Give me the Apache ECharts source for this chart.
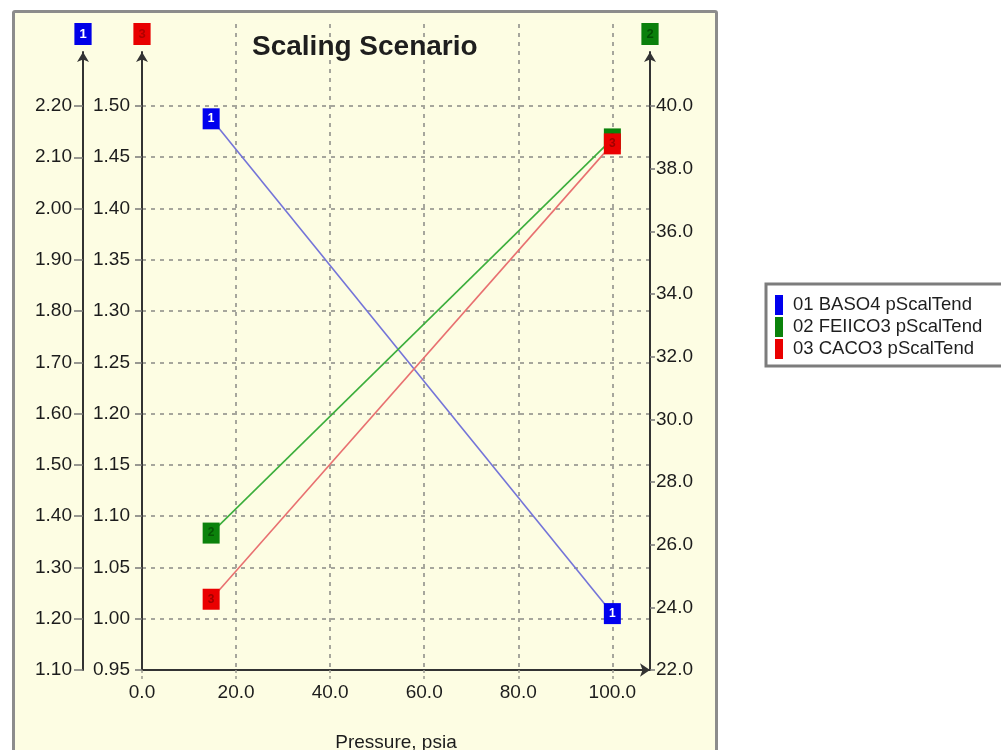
<!DOCTYPE html>
<html>
<head>
<meta charset="utf-8">
<script src="https://cdn.jsdelivr.net/npm/echarts@6/dist/echarts.min.js"></script>
<style>
  html, body { margin: 0; padding: 0; background: #ffffff; }
  #panel { position: absolute; left: 12px; top: 10px; width: 700px; height: 760px;
           border: 3px solid #8c8c8c; border-radius: 3px; background: #fdfde3; }
  #chart { position: absolute; left: 0; top: 0; width: 1001px; height: 750px; }
</style>
</head>
<body>
<div id="panel"></div>
<div id="chart"></div>
<script>
// ---- data ----
const pressure = [14.7, 100.0];
const baso4 = [2.175, 1.21];      // left outer axis (1.10 - 2.20)
const feiico3 = [26.37, 38.95];   // right axis (22.0 - 40.0)
const caco3 = [1.019, 1.463];     // left inner axis (0.95 - 1.50)
const seriesNames = ['01 BASO4 pScalTend', '02 FEIICO3 pScalTend', '03 CACO3 pScalTend'];
const markerLabels = ['1', '2', '3'];
const xTicks = [0, 20, 40, 60, 80, 100];
const blueTicks = [1.10, 1.20, 1.30, 1.40, 1.50, 1.60, 1.70, 1.80, 1.90, 2.00, 2.10, 2.20];
const redTicks = [0.95, 1.00, 1.05, 1.10, 1.15, 1.20, 1.25, 1.30, 1.35, 1.40, 1.45, 1.50];
const greenTicks = [22, 24, 26, 28, 30, 32, 34, 36, 38, 40];
const titleText = 'Scaling Scenario';
const xName = 'Pressure, psia';

const FONT = 'Liberation Sans, Arial, sans-serif';
const AXIS_COL = '#333333';
const LABEL_COL = '#1c1c1c';
const GRID_COL = '#a6a69c';

function pairs(vals) { return pressure.map((x, i) => [x, vals[i]]); }

function yAxisBase(opts) {
  return Object.assign({
    type: 'value',
    gridIndex: 0,
    nameLocation: 'end',
    nameGap: 7,
    axisLine: { show: true, onZero: false, symbol: ['none', 'arrow'], symbolSize: [9, 10],
                lineStyle: { color: AXIS_COL, width: 2 } },
    splitLine: { show: false }
  }, opts);
}

function nameBox(bg, fg) {
  return { backgroundColor: bg, color: fg, fontFamily: FONT, fontSize: 13,
           padding: [5, 5, 4, 5], fontWeight: 'bold' };
}

const chart = echarts.init(document.getElementById('chart'), null, { renderer: 'canvas' });

const option = {
  animation: false,
  backgroundColor: 'transparent',
  title: {
    text: titleText,
    left: 252, top: 33, padding: 0,
    textStyle: { fontFamily: FONT, fontSize: 28, fontWeight: 'bold', color: '#1e1e1e' }
  },
  legend: {
    orient: 'vertical',
    left: 766, top: 284,
    padding: [11, 90, 7, 9],
    itemGap: 2,
    itemWidth: 8, itemHeight: 20,
    icon: 'rect',
    backgroundColor: '#ffffff',
    borderColor: '#7c7c7c', borderWidth: 3,
    textStyle: { fontFamily: FONT, fontSize: 18.5, color: '#1e1e1e', padding: [0, 0, 0, 5] },
    data: seriesNames
  },
  grid: [
    { left: 142, right: 351, top: 52, bottom: 80, containLabel: false, outerBoundsMode: 'none' },
    { left: 142, right: 351, top: 24, bottom: 80, containLabel: false, outerBoundsMode: 'none' }
  ],
  xAxis: [
    {
      type: 'value', gridIndex: 0,
      min: 0, max: 108, interval: 20,
      name: xName, nameLocation: 'middle', nameGap: 63,
      nameTextStyle: { fontFamily: FONT, fontSize: 19, color: LABEL_COL },
      axisLine: { show: true, onZero: false, symbol: ['none', 'arrow'], symbolSize: [10, 10],
                  lineStyle: { color: AXIS_COL, width: 2 } },
      axisTick: { show: true, length: 10, customValues: xTicks,
                  lineStyle: { color: '#9a9a90', width: 1.5, type: [3, 3] } },
      axisLabel: { customValues: xTicks, margin: 13, fontFamily: FONT, fontSize: 19, color: LABEL_COL,
                   formatter: v => v.toFixed(1) },
      splitLine: { show: false }
    },
    {
      type: 'value', gridIndex: 1,
      min: 0, max: 108, interval: 20,
      axisLine: { show: false }, axisTick: { show: false }, axisLabel: { show: false },
      splitLine: { show: true, showMinLine: false, showMaxLine: false,
                   lineStyle: { color: GRID_COL, width: 2, type: [4, 5] } }
    }
  ],
  yAxis: [
    yAxisBase({
      position: 'left', offset: 0,
      min: 0.95, max: 1.5526, interval: 0.05,
      name: markerLabels[2],
      nameTextStyle: nameBox('#e80000', '#b00000'),
      axisLabel: { customValues: redTicks, margin: 12, fontFamily: FONT, fontSize: 19, color: LABEL_COL,
                   formatter: v => v.toFixed(2) },
      axisTick: { show: true, length: 7, customValues: redTicks, lineStyle: { color: '#777', width: 1.5 } },
      splitLine: { show: true, showMinLine: false,
                   lineStyle: { color: GRID_COL, width: 2, type: [4, 5] } }
    }),
    yAxisBase({
      position: 'left', offset: 59,
      min: 1.10, max: 2.3053, interval: 0.10,
      name: markerLabels[0],
      nameTextStyle: nameBox('#0000e8', '#ffffff'),
      axisLabel: { customValues: blueTicks, margin: 11, fontFamily: FONT, fontSize: 19, color: LABEL_COL,
                   formatter: v => v.toFixed(2) },
      axisTick: { show: true, length: 9, customValues: blueTicks, lineStyle: { color: '#777', width: 1.5 } }
    }),
    yAxisBase({
      position: 'right', offset: 0,
      min: 22, max: 41.724, interval: 2,
      name: markerLabels[1],
      nameTextStyle: nameBox('#0b800b', '#045004'),
      axisLabel: { customValues: greenTicks, margin: 6, fontFamily: FONT, fontSize: 19, color: LABEL_COL,
                   formatter: v => v.toFixed(1) },
      axisTick: { show: true, length: 5, customValues: greenTicks, lineStyle: { color: '#777', width: 1.5 } }
    }),
    { type: 'value', gridIndex: 1, show: false, min: 0, max: 1 }
  ],
  series: [
    {
      name: seriesNames[0], type: 'line', xAxisIndex: 0, yAxisIndex: 1,
      data: pairs(baso4),
      symbol: 'rect', symbolSize: [17, 21], z: 3,
      itemStyle: { color: '#0000ee' },
      lineStyle: { color: '#7474d8', width: 1.6 },
      label: { show: true, position: 'inside', formatter: markerLabels[0], color: '#ffffff',
               fontFamily: FONT, fontSize: 12, fontWeight: 'bold' }
    },
    {
      name: seriesNames[1], type: 'line', xAxisIndex: 0, yAxisIndex: 2,
      data: pairs(feiico3),
      symbol: 'rect', symbolSize: [17, 21], z: 4,
      itemStyle: { color: '#0b820b' },
      lineStyle: { color: '#3cae3c', width: 1.6 },
      label: { show: true, position: 'inside', formatter: markerLabels[1], color: '#055505',
               fontFamily: FONT, fontSize: 12, fontWeight: 'bold' }
    },
    {
      name: seriesNames[2], type: 'line', xAxisIndex: 0, yAxisIndex: 0,
      data: pairs(caco3),
      symbol: 'rect', symbolSize: [17, 21], z: 5,
      itemStyle: { color: '#ea0000' },
      lineStyle: { color: '#e87070', width: 1.6 },
      label: { show: true, position: 'inside', formatter: markerLabels[2], color: '#a00000',
               fontFamily: FONT, fontSize: 12, fontWeight: 'bold' }
    }
  ]
};

chart.setOption(option);
</script>
</body>
</html>
